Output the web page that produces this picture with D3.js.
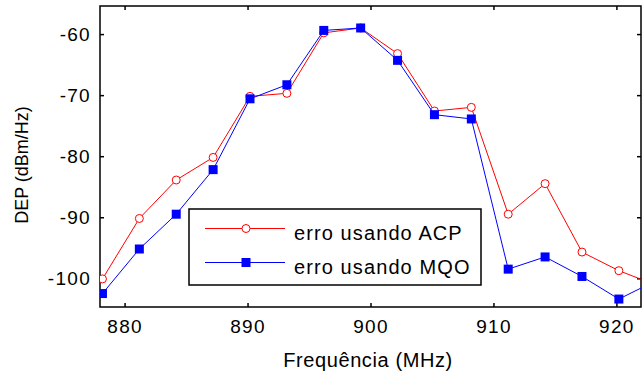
<!DOCTYPE html>
<html>
<head>
<meta charset="utf-8">
<script src="https://cdn.jsdelivr.net/npm/d3@7"></script>
<style>
  body { margin: 0; background: #fff; }
  text { font-family: "Liberation Sans", Arial, sans-serif; }
</style>
</head>
<body>
<div id="chart"></div>
<script>
// Data
const freqs = [878.2, 881.2, 884.2, 887.2, 890.2, 893.2, 896.2, 899.2, 902.2, 905.2, 908.2, 911.2, 914.2, 917.2, 920.2, 923.2];
const acpValues = [-100.1, -90.2, -83.9, -80.2, -70.2, -69.7, -59.8, -59.0, -63.2, -72.6, -72.0, -89.5, -84.5, -95.7, -98.75, -101.1];
const mqoValues = [-102.5, -95.2, -89.5, -82.2, -70.6, -68.3, -59.4, -59.0, -64.3, -73.2, -73.9, -98.5, -96.5, -99.7, -103.4, -100.4];
const xTicks = [880, 890, 900, 910, 920];
const yTicks = [-60, -70, -80, -90, -100];
const seriesNames = ["erro usando ACP", "erro usando MQO"];

const W = 642, H = 373;
const margin = {top: 6, right: 1, bottom: 66, left: 100};
const width = W - margin.left - margin.right;
const height = H - margin.top - margin.bottom;

const svg = d3.select("#chart")
    .append("svg")
    .attr("width", W)
    .attr("height", H);

const g = svg.append("g")
    .attr("transform", `translate(${margin.left},${margin.top})`);

const x = d3.scaleLinear().domain([878, 922]).range([0, width]);
const y = d3.scaleLinear().domain([-104.7, -55.4]).range([height, 0]);

g.append("clipPath").attr("id", "clip")
    .append("rect").attr("width", width).attr("height", height);

// Axes with inward ticks (MATLAB style box)
const tickLen = 4;
g.append("g")
    .attr("class", "lbl")
    .attr("transform", `translate(0,${height})`)
    .call(d3.axisBottom(x).tickValues(xTicks).tickSizeInner(-tickLen).tickSizeOuter(0)
        .tickPadding(13).tickFormat(d => String(d)));
g.append("g")
    .attr("class", "lbl")
    .call(d3.axisLeft(y).tickValues(yTicks).tickSizeInner(-tickLen).tickSizeOuter(0)
        .tickPadding(9).tickFormat(d => String(d)));
g.append("g")
    .call(d3.axisTop(x).tickValues(xTicks).tickSizeInner(-tickLen).tickSizeOuter(0).tickFormat(""));
g.append("g")
    .attr("transform", `translate(${width},0)`)
    .call(d3.axisRight(y).tickValues(yTicks).tickSizeInner(-tickLen).tickSizeOuter(0).tickFormat(""));

g.selectAll(".domain").remove();
g.selectAll(".tick line").attr("stroke", "#000").attr("stroke-width", 1.5);
g.selectAll(".lbl .tick text")
    .style("font-size", "19px")
    .style("letter-spacing", "1.3px")
    .attr("fill", "#000");

// Box around plot
g.append("rect")
    .attr("width", width)
    .attr("height", height)
    .attr("fill", "none")
    .attr("stroke", "#000")
    .attr("stroke-width", 1.5);

const plot = g.append("g").attr("clip-path", "url(#clip)");

const line = d3.line()
    .x((d, i) => x(freqs[i]))
    .y(d => y(d));

// ACP series (red, open circles)
plot.append("path")
    .datum(acpValues)
    .attr("fill", "none")
    .attr("stroke", "#ff0000")
    .attr("stroke-width", 1)
    .attr("d", line);
plot.selectAll("circle.acp")
    .data(acpValues)
    .join("circle")
    .attr("class", "acp")
    .attr("cx", (d, i) => x(freqs[i]))
    .attr("cy", d => y(d))
    .attr("r", 4)
    .attr("fill", "#fff")
    .attr("stroke", "#ff0000")
    .attr("stroke-width", 1);

// MQO series (blue, filled squares)
plot.append("path")
    .datum(mqoValues)
    .attr("fill", "none")
    .attr("stroke", "#0000ff")
    .attr("stroke-width", 1)
    .attr("d", line);
const sq = 9;
plot.selectAll("rect.mqo")
    .data(mqoValues)
    .join("rect")
    .attr("class", "mqo")
    .attr("x", (d, i) => x(freqs[i]) - sq / 2)
    .attr("y", d => y(d) - sq / 2)
    .attr("width", sq)
    .attr("height", sq)
    .attr("fill", "#0000ff");

// Axis labels
svg.append("text")
    .attr("text-anchor", "middle")
    .attr("x", 368)
    .attr("y", 367)
    .style("font-size", "20px")
    .style("letter-spacing", "0.6px")
    .text("Frequência (MHz)");

svg.append("text")
    .attr("text-anchor", "middle")
    .attr("transform", "translate(28,165) rotate(-90)")
    .style("font-size", "18px")
    .text("DEP (dBm/Hz)");

// Legend
const leg = svg.append("g").attr("transform", "translate(189,209)");
leg.append("rect")
    .attr("width", 292)
    .attr("height", 76)
    .attr("fill", "#fff")
    .attr("stroke", "#000")
    .attr("stroke-width", 1.5);

const legRows = [
    {name: seriesNames[0], color: "#ff0000", y: 19.5},
    {name: seriesNames[1], color: "#0000ff", y: 53.5}
];
legRows.forEach((r, i) => {
    leg.append("line")
        .attr("x1", 16).attr("x2", 96)
        .attr("y1", r.y).attr("y2", r.y)
        .attr("stroke", r.color)
        .attr("stroke-width", 1);
    if (i === 0) {
        leg.append("circle")
            .attr("cx", 57).attr("cy", r.y).attr("r", 4)
            .attr("fill", "#fff").attr("stroke", r.color);
    } else {
        leg.append("rect")
            .attr("x", 57 - sq / 2).attr("y", r.y - sq / 2)
            .attr("width", sq).attr("height", sq)
            .attr("fill", r.color);
    }
    leg.append("text")
        .attr("x", 105)
        .attr("y", r.y + 11)
        .style("font-size", "20px")
        .style("letter-spacing", "1.1px")
        .text(r.name);
});
</script>
</body>
</html>
